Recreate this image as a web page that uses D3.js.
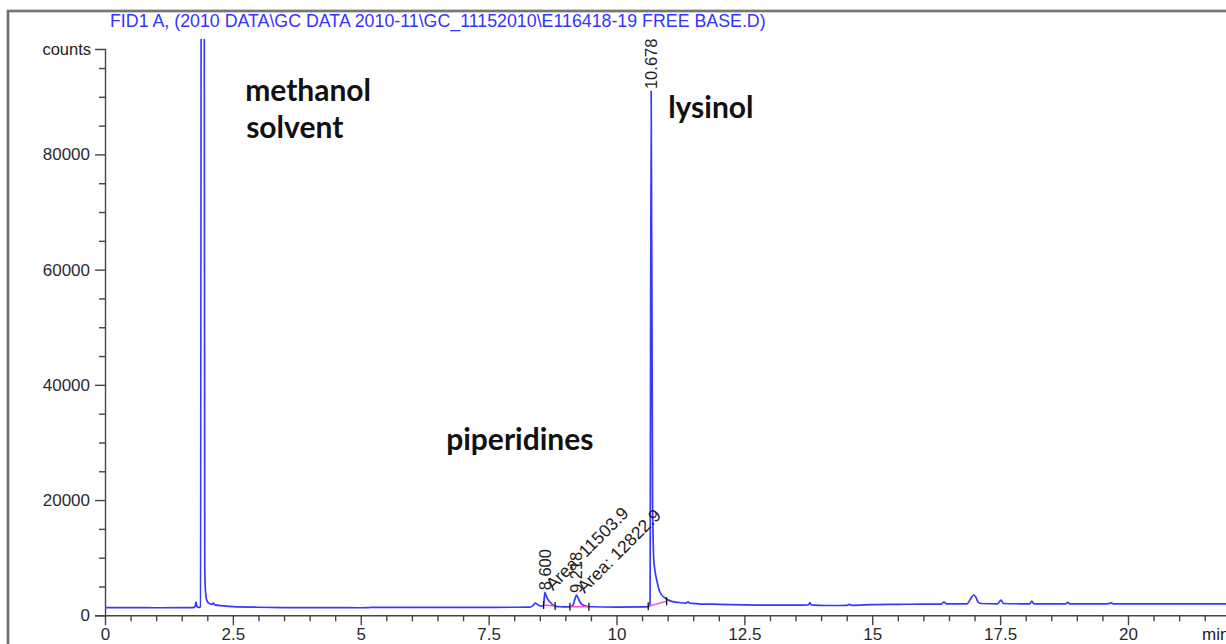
<!DOCTYPE html>
<html>
<head>
<meta charset="utf-8">
<script src="https://cdn.jsdelivr.net/npm/d3@7"></script>
<style>
  html, body { margin: 0; padding: 0; background: #fff; }
  svg { display: block; }
</style>
</head>
<body>
<svg id="chart" width="1226" height="644"></svg>
<script>
// ---- data -------------------------------------------------------------
const titleText = "FID1 A,  (2010 DATA\\GC DATA 2010-11\\GC_11152010\\E116418-19 FREE BASE.D)";

// detector trace: retention time (min) and signal (counts)
const traceTimes = [
  0.0, 0.5, 1.0, 1.5, 1.72, 1.76, 1.78, 1.80, 1.84, 1.865,
  1.91, 1.95, 1.96, 1.975, 2.0, 2.05, 2.1, 2.12, 2.15, 2.3,
  2.5, 3.0, 3.5, 4.0, 4.5, 5.0, 5.15, 5.2, 6.0, 7.0,
  7.5, 8.0, 8.3, 8.36, 8.41, 8.45, 8.5, 8.55, 8.575, 8.59,
  8.60, 8.62, 8.65, 8.7, 8.75, 8.8, 8.9, 9.0, 9.1, 9.15,
  9.19, 9.218, 9.24, 9.28, 9.33, 9.4, 9.5, 10.0, 10.5, 10.63,
  10.655, 10.678, 10.705, 10.73, 10.79, 10.85, 10.95, 11.05, 11.2, 11.35,
  11.4, 11.43, 11.6, 12.0, 12.5, 13.0, 13.5, 13.75, 13.78, 13.81,
  14.0, 14.2, 14.5, 14.55, 14.6, 15.0, 15.5, 16.0, 16.35, 16.4,
  16.45, 16.85, 16.92, 16.98, 17.02, 17.07, 17.12, 17.45, 17.52, 17.56,
  17.9, 18.08, 18.12, 18.16, 18.78, 18.82, 18.86, 19.6, 19.67, 19.72,
  20.5, 21.0, 21.5, 22.0
];
const traceCounts = [
  1320, 1320, 1310, 1320, 1330, 1500, 2300, 1500, 1360, 1500,
  420000, 9000, 5000, 3200, 2400, 2000, 1900, 2100, 1800, 1650,
  1500, 1400, 1340, 1320, 1320, 1310, 1320, 1380, 1380, 1380,
  1390, 1400, 1420, 1600, 2100, 1900, 1650, 1600, 1800, 3200,
  3990, 3500, 2900, 2300, 1850, 1600, 1480, 1450, 1500, 1800,
  2900, 3520, 3200, 2400, 1850, 1600, 1480, 1420, 1450, 1500,
  1900, 91000, 20000, 9500, 6000, 4000, 3000, 2500, 2250, 2100,
  2350, 2100, 2000, 1900, 1800, 1750, 1750, 1800, 2200, 1800,
  1730, 1700, 1730, 1880, 1740, 1850, 1900, 1950, 1950, 2300,
  2000, 1980, 2800, 3520, 3200, 2300, 2050, 2000, 2650, 2050,
  2000, 2000, 2480, 2000, 2000, 2250, 2000, 2000, 2150, 1980,
  2000, 1990, 2000, 2000
];

// integrated peaks
const peakTimes = [8.600, 9.218, 10.678];
const peakCounts = [3990, 3520, 91000];
const peakTimeLabels = ["8.600", "9.218", "10.678"];
const peakAreaLabels = ["Area: 11503.9", "Area: 12822.9", ""];

// integration baselines (start / end of each peak)
const baseStartTimes = [8.575, 9.09, 10.62];
const baseStartCounts = [1800, 1500, 1550];
const baseEndTimes = [8.80, 9.46, 10.98];
const baseEndCounts = [1600, 1500, 2450];

// axis ticks
const xMajorTicks = [0, 2.5, 5, 7.5, 10, 12.5, 15, 17.5, 20];
const xMinorTicks = [0.5, 1, 1.5, 2, 3, 3.5, 4, 4.5, 5.5, 6, 6.5, 7, 8, 8.5, 9, 9.5,
  10.5, 11, 11.5, 12, 13, 13.5, 14, 14.5, 15.5, 16, 16.5, 17, 18, 18.5, 19, 19.5,
  20.5, 21, 21.5];
const yMajorTicks = [0, 20000, 40000, 60000, 80000];
const yMinorTicks = [5000, 10000, 15000, 25000, 30000, 35000, 45000, 50000, 55000,
  65000, 70000, 75000, 85000, 90000, 95000];

// compound names written onto the chromatogram
const compoundNames = ["methanol", "solvent", "lysinol", "piperidines"];
const compoundTimes = [2.74, 2.76, 11.01, 6.67];
const compoundCounts = [89300, 82900, 86300, 28700];

// ---- layout -----------------------------------------------------------
const svg = d3.select("#chart");
const W = 1226, H = 644;
const x = d3.scaleLinear().domain([0, 22]).range([105, 1230.3]);
const y = d3.scaleLinear().domain([0, 98300]).range([615.3, 49]);

const axisFont = "'Liberation Sans', Arial, sans-serif";
const axisColor = "#454545";
const traceColor = "#3838ff";

// outer frame
svg.append("path")
  .attr("d", `M8,${H + 2}V11H${W + 2}`)
  .attr("fill", "none").attr("stroke", "#9a9a9a").attr("stroke-width", 3);
svg.append("path")
  .attr("d", `M8,${H + 2}V11H${W + 2}`)
  .attr("fill", "none").attr("stroke", "#555").attr("stroke-width", 1.2);

// title
svg.append("text")
  .attr("x", 110).attr("y", 27)
  .attr("font-family", axisFont).attr("font-size", 17.8)
  .attr("fill", "#3333ff")
  .text(titleText);

// y axis
const yAxisG = svg.append("g").attr("transform", `translate(${x(0)},0)`);
yAxisG.call(d3.axisLeft(y).tickValues(yMajorTicks).tickSize(10).tickSizeOuter(10)
  .tickPadding(5).tickFormat(d3.format("d")));
const yMinorG = svg.append("g").attr("transform", `translate(${x(0)},0)`);
yMinorG.call(d3.axisLeft(y).tickValues(yMinorTicks).tickSize(6).tickSizeOuter(0).tickFormat(""));
yMinorG.select(".domain").remove();

// x axis
const xAxisG = svg.append("g").attr("transform", `translate(0,${y(0)})`);
xAxisG.call(d3.axisBottom(x).tickValues(xMajorTicks).tickSize(10).tickSizeOuter(0)
  .tickPadding(3).tickFormat(d => String(d)));
const xMinorG = svg.append("g").attr("transform", `translate(0,${y(0)})`);
xMinorG.call(d3.axisBottom(x).tickValues(xMinorTicks).tickSize(6).tickSizeOuter(0).tickFormat(""));
xMinorG.select(".domain").remove();

svg.selectAll(".domain, .tick line")
  .attr("stroke", axisColor).attr("stroke-width", 1.4);
svg.selectAll(".tick text")
  .attr("font-family", axisFont).attr("font-size", 17).attr("fill", "#2a2a33");

// axis titles
svg.append("text")
  .attr("x", 91).attr("y", 55).attr("text-anchor", "end")
  .attr("font-family", axisFont).attr("font-size", 16.5).attr("fill", "#222")
  .text("counts");
svg.append("text")
  .attr("x", 1202).attr("y", 640)
  .attr("font-family", axisFont).attr("font-size", 17).attr("fill", "#222")
  .text("min");

// trace
svg.append("clipPath").attr("id", "plotClip")
  .append("rect")
  .attr("x", x(0)).attr("y", y(98300) - 10)
  .attr("width", W - x(0)).attr("height", y(0) - y(98300) + 8);

const traceData = traceTimes.map((t, i) => [t, traceCounts[i]]);
const line = d3.line().x(d => x(d[0])).y(d => y(d[1])).curve(d3.curveMonotoneX);

const plot = svg.append("g").attr("clip-path", "url(#plotClip)");
plot.append("path")
  .datum(traceData)
  .attr("d", line)
  .attr("fill", "none")
  .attr("stroke", traceColor)
  .attr("stroke-width", 1.7)
  .attr("stroke-linejoin", "round");

// integration baselines and their start/end marks
peakTimes.forEach((t, i) => {
  plot.append("line")
    .attr("x1", x(baseStartTimes[i])).attr("y1", y(baseStartCounts[i]))
    .attr("x2", x(baseEndTimes[i])).attr("y2", y(baseEndCounts[i]))
    .attr("stroke", "#ff4fc8").attr("stroke-width", 1.5);
  [[baseStartTimes[i], baseStartCounts[i]], [baseEndTimes[i], baseEndCounts[i]]].forEach(p => {
    plot.append("line")
      .attr("x1", x(p[0])).attr("x2", x(p[0]))
      .attr("y1", y(p[1]) - 4).attr("y2", y(p[1]) + 4)
      .attr("stroke", "#111").attr("stroke-width", 1.3);
  });
});

// peak labels: retention time (vertical) and area (slanted)
const labelFont = "'Liberation Sans', Arial, sans-serif";
peakTimes.forEach((t, i) => {
  const px = x(t), py = y(peakCounts[i]) - 2;
  svg.append("text")
    .attr("transform", `translate(${px},${py}) rotate(-90)`)
    .attr("dy", "0.35em")
    .attr("font-family", labelFont).attr("font-size", 16.5).attr("fill", "#222")
    .text(peakTimeLabels[i]);
  if (peakAreaLabels[i]) {
    svg.append("text")
      .attr("transform", `translate(${px + 8},${py + 1}) rotate(-45)`)
      .attr("font-family", labelFont).attr("font-size", 17.5).attr("fill", "#222")
      .text(peakAreaLabels[i]);
  }
});

// compound names
compoundNames.forEach((name, i) => {
  svg.append("text")
    .attr("x", x(compoundTimes[i])).attr("y", y(compoundCounts[i]))
    .attr("font-family", "Lato, 'Open Sans', sans-serif")
    .attr("font-weight", 700).attr("font-size", 30)
    .attr("fill", "#111")
    .text(name);
});
</script>
</body>
</html>
